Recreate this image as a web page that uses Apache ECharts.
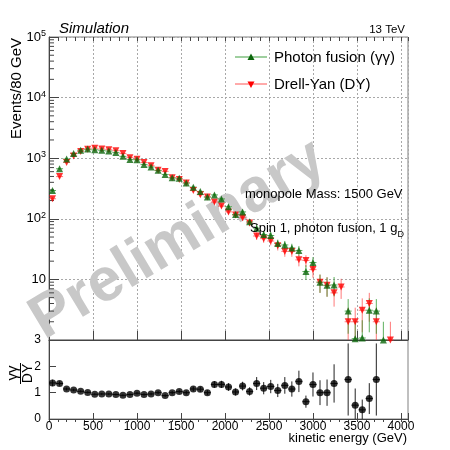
<!DOCTYPE html>
<html>
<head>
<meta charset="utf-8">
<script src="https://cdn.jsdelivr.net/npm/echarts@6/dist/echarts.min.js"></script>
<style>
  html, body { margin: 0; padding: 0; background: #ffffff; }
  #chart { width: 450px; height: 450px; }
</style>
</head>
<body>
<div id="chart"></div>
<script>
// Kinetic-energy spectrum of a 1500 GeV monopole, 80 GeV bins from 0 to 4080 GeV
const binCenters = [40, 120, 200, 280, 360, 440, 520, 600, 680, 760, 840, 920, 1000, 1080, 1160,
  1240, 1320, 1400, 1480, 1560, 1640, 1720, 1800, 1880, 1960, 2040, 2120, 2200, 2280, 2360, 2440,
  2520, 2600, 2680, 2760, 2840, 2920, 3000, 3080, 3160, 3240, 3320, 3400, 3480, 3560, 3640, 3720,
  3800, 3880, 3960, 4040];
const halfBin = 40;

// Events per bin, photon fusion (γγ)
const photonFusion = [293, 670, 969, 1193, 1355, 1417, 1375, 1349, 1312, 1236,
  1073, 949, 941, 789, 716, 630, 539, 474, 465, 390,
  333, 283, 229, 248, 213, 158, 118, 130, 89, 70,
  55, 53, 39, 37, 33, 30, 13.5, 19, 9, 8,
  8.1, 0, 3, 1.05, 1.08, 3.1, 3, 1, 0, 0, 0];

// Events per bin, Drell-Yan (DY)
const drellYan = [214, 497, 850, 1084, 1290, 1403, 1463, 1420, 1381, 1329,
  1192, 1021, 961, 848, 753, 630, 606, 474, 447, 390,
  292, 250, 229, 189, 162, 130, 115, 104, 85, 52,
  47, 43, 36, 29, 29, 21, 20.5, 14.5, 9, 8,
  6, 7.5, 2, 2, 3.1, 4, 2, 0, 1, 0, 0];

// Axis ticks
const energyTicks = [0, 500, 1000, 1500, 2000, 2500, 3000, 3500, 4000];
const logDecades = [1, 10, 100, 1000, 10000];
const logMantissas = [2, 3, 4, 5, 6, 7, 8, 9];
const ratioTicks = [0, 1, 2, 3];

const FONT = '"Liberation Sans", Arial, Helvetica, sans-serif';
const GREEN = '#0b660b';
const GREEN_BAR = 'rgba(40,150,40,0.75)';
const RED = '#ff0000';
const RED_BAR = 'rgba(255,50,50,0.65)';
const AXIS = '#444444';

// Markers and Poisson error bars for one histogram
function histPoints(values) {
  const pts = [], bars = [];
  values.forEach((v, i) => {
    if (v <= 0) return;
    const e = Math.sqrt(v);
    pts.push([binCenters[i], v]);
    bars.push([binCenters[i], v, Math.max(v - e, 1), v + e]);
  });
  return { pts, bars };
}
const gg = histPoints(photonFusion);
const dy = histPoints(drellYan);

// Ratio γγ / DY with propagated statistical uncertainty
const ratioPts = [], ratioBars = [];
binCenters.forEach((x, i) => {
  const a = photonFusion[i], b = drellYan[i];
  if (a <= 0 || b <= 0) return;
  const r = a / b;
  const e = r * Math.sqrt(1 / a + 1 / b);
  ratioPts.push([x, r]);
  ratioBars.push([x, r, Math.max(r - e, 0), Math.min(r + e, 3)]);
});

const logMinor = [];
logDecades.forEach(d => logMantissas.forEach(m => logMinor.push([0, m * d])));

function errorBars(color) {
  return function (params, api) {
    const x = api.value(0), y = api.value(1), lo = api.value(2), hi = api.value(3);
    const c = api.coord([x, y]);
    const top = api.coord([x, hi]);
    const bot = api.coord([x, lo]);
    const l = api.coord([x - halfBin, y]);
    const r = api.coord([x + halfBin, y]);
    return {
      type: 'group',
      children: [
        { type: 'line', shape: { x1: c[0], y1: top[1], x2: c[0], y2: bot[1] }, style: { stroke: color, lineWidth: 1 } },
        { type: 'line', shape: { x1: l[0], y1: c[1], x2: r[0], y2: c[1] }, style: { stroke: color, lineWidth: 1 } }
      ]
    };
  };
}

function logMinorTick(params, api) {
  const p = api.coord([0, api.value(1)]);
  return { type: 'line', shape: { x1: p[0], y1: p[1], x2: p[0] + 5, y2: p[1] }, style: { stroke: AXIS, lineWidth: 1 } };
}

const dash = { color: '#a8a8a8', type: [2, 2], width: 1 };

function energyAxis(grid, withLabels) {
  return {
    gridIndex: grid, type: 'value', min: 0, max: 4080, interval: 500,
    axisLine: { show: true, onZero: false, lineStyle: { color: AXIS } },
    axisTick: { show: true, inside: true, length: grid === 0 ? 9 : 6, lineStyle: { color: AXIS } },
    axisLabel: withLabels ? {
      show: true, margin: 2, fontSize: 12, fontFamily: FONT, color: '#000',
      formatter: v => energyTicks.indexOf(v) >= 0 ? String(v) : ''
    } : { show: false },
    splitLine: grid === 0 ? { show: true, lineStyle: dash } : { show: false }
  };
}
function energyMinorAxis(grid) {
  return {
    gridIndex: grid, type: 'value', min: 0, max: 4080, interval: 100,
    axisLine: { show: false }, axisLabel: { show: false }, splitLine: { show: false },
    axisTick: { show: true, inside: true, length: grid === 0 ? 4 : 3, lineStyle: { color: AXIS } }
  };
}

const option = {
  animation: false,
  backgroundColor: '#ffffff',
  textStyle: { fontFamily: FONT },
  grid: [
    { left: 49, top: 37, width: 359, height: 303, show: true, borderColor: '#808080', borderWidth: 1 },
    { left: 49, top: 340, width: 359, height: 79, show: true, borderColor: '#808080', borderWidth: 1 }
  ],
  xAxis: [energyAxis(0, false), energyMinorAxis(0), energyAxis(1, true), energyMinorAxis(1)],
  yAxis: [
    {
      gridIndex: 0, type: 'log', logBase: 10, min: 1, max: 100000,
      axisLine: { show: true, lineStyle: { color: AXIS } },
      axisTick: { show: true, inside: true, length: 10, lineStyle: { color: AXIS } },
      axisLabel: {
        margin: 3, color: '#000', fontFamily: FONT,
        formatter: v => {
          const e = Math.round(Math.log10(v));
          if (e === 0) return '';
          if (e === 1) return '{b|10}';
          return '{b|10}{s|' + e + '}';
        },
        rich: {
          b: { fontSize: 13, lineHeight: 16, fontFamily: FONT, color: '#000' },
          s: { fontSize: 9, lineHeight: 9, verticalAlign: 'top', fontFamily: FONT, color: '#000' }
        }
      },
      splitLine: { show: true, lineStyle: dash }
    },
    {
      gridIndex: 1, type: 'value', min: 0, max: 3, interval: 1,
      axisLine: { show: true, lineStyle: { color: AXIS } },
      axisTick: { show: true, inside: true, length: 7, lineStyle: { color: AXIS } },
      axisLabel: { margin: 8, fontSize: 12, color: '#000', fontFamily: FONT,
        formatter: v => ratioTicks.indexOf(v) >= 0 ? String(v) : '' },
      splitLine: { show: false }
    }
  ],
  series: [
    { type: 'custom', name: 'logMinorTicks', xAxisIndex: 0, yAxisIndex: 0, silent: true, z: 3,
      data: logMinor, encode: { x: 0, y: 1 }, renderItem: logMinorTick },
    { type: 'custom', name: 'DY errors', xAxisIndex: 0, yAxisIndex: 0, silent: true, z: 2,
      data: dy.bars, encode: { x: 0, y: 1 }, renderItem: errorBars(RED_BAR) },
    { type: 'custom', name: 'γγ errors', xAxisIndex: 0, yAxisIndex: 0, silent: true, z: 2,
      data: gg.bars, encode: { x: 0, y: 1 }, renderItem: errorBars(GREEN_BAR) },
    { type: 'scatter', name: 'Drell-Yan (DY)', xAxisIndex: 0, yAxisIndex: 0, z: 4,
      data: dy.pts, symbol: 'triangle', symbolRotate: 180, symbolSize: 7, itemStyle: { color: RED } },
    { type: 'scatter', name: 'Photon fusion (γγ)', xAxisIndex: 0, yAxisIndex: 0, z: 5,
      data: gg.pts, symbol: 'triangle', symbolSize: 7, itemStyle: { color: GREEN } },
    { type: 'custom', name: 'ratio errors', xAxisIndex: 2, yAxisIndex: 1, silent: true, z: 2,
      data: ratioBars, encode: { x: 0, y: 1 }, renderItem: errorBars('#222222') },
    { type: 'scatter', name: 'ratio', xAxisIndex: 2, yAxisIndex: 1, z: 4,
      data: ratioPts, symbol: 'circle', symbolSize: 7, itemStyle: { color: '#000' } }
  ],
  graphic: [
    // watermark
    { type: 'text', x: 178, y: 240, rotation: 31 * Math.PI / 180, z: 1, silent: true,
      style: { text: 'Preliminary', font: 'bold 61px ' + FONT, fill: '#c8c8c8',
        align: 'center', verticalAlign: 'middle', textAlign: 'center', textVerticalAlign: 'middle' } },
    // headers
    { type: 'text', x: 59, y: 29, z: 10,
      style: { text: 'Simulation', font: 'italic 15px ' + FONT, fill: '#000',
        align: 'left', verticalAlign: 'middle', textAlign: 'left', textVerticalAlign: 'middle' } },
    { type: 'text', x: 405, y: 29.5, z: 10,
      style: { text: '13 TeV', font: '11.5px ' + FONT, fill: '#000',
        align: 'right', verticalAlign: 'middle', textAlign: 'right', textVerticalAlign: 'middle' } },
    // legend
    { type: 'line', z: 10, shape: { x1: 235, y1: 57, x2: 267, y2: 57 }, style: { stroke: '#3f9f3f', lineWidth: 1 } },
    { type: 'polygon', z: 11, shape: { points: [[251, 53.5], [247.5, 60], [254.5, 60]] }, style: { fill: GREEN } },
    { type: 'text', x: 274, y: 57.5, z: 10,
      style: { text: 'Photon fusion (γγ)', font: '15px ' + FONT, fill: '#000',
        align: 'left', verticalAlign: 'middle', textAlign: 'left', textVerticalAlign: 'middle' } },
    { type: 'line', z: 10, shape: { x1: 235, y1: 84, x2: 267, y2: 84 }, style: { stroke: '#ff5555', lineWidth: 1 } },
    { type: 'polygon', z: 11, shape: { points: [[247.5, 81.5], [254.5, 81.5], [251, 88]] }, style: { fill: RED } },
    { type: 'text', x: 274, y: 85, z: 10,
      style: { text: 'Drell-Yan (DY)', font: '15px ' + FONT, fill: '#000',
        align: 'left', verticalAlign: 'middle', textAlign: 'left', textVerticalAlign: 'middle' } },
    // annotations
    { type: 'text', x: 245, y: 194.5, z: 10,
      style: { text: 'monopole Mass: 1500 GeV', font: '13px ' + FONT, fill: '#000',
        align: 'left', verticalAlign: 'middle', textAlign: 'left', textVerticalAlign: 'middle' } },
    { type: 'text', x: 250, y: 228, z: 10,
      style: { text: '{a|Spin 1, photon fusion, 1 g}{d|D}', fill: '#000',
        align: 'left', verticalAlign: 'middle', textAlign: 'left', textVerticalAlign: 'middle',
        rich: {
          a: { fontSize: 13, lineHeight: 22, fontFamily: FONT, fill: '#000', color: '#000' },
          d: { fontSize: 9, lineHeight: 9, verticalAlign: 'bottom', fontFamily: FONT, fill: '#000', color: '#000' }
        } } },
    // axis titles
    { type: 'text', x: 16.5, y: 38, rotation: Math.PI / 2, z: 10,
      style: { text: 'Events/80 GeV', font: '15px ' + FONT, fill: '#000',
        align: 'right', verticalAlign: 'middle', textAlign: 'right', textVerticalAlign: 'middle' } },
    { type: 'text', x: 407, y: 438, z: 10,
      style: { text: 'kinetic energy (GeV)', font: '13px ' + FONT, fill: '#000',
        align: 'right', verticalAlign: 'middle', textAlign: 'right', textVerticalAlign: 'middle' } },
    { type: 'text', x: 13, y: 373, rotation: Math.PI / 2, z: 10,
      style: { text: 'γγ', font: '15px ' + FONT, fill: '#000',
        align: 'center', verticalAlign: 'middle', textAlign: 'center', textVerticalAlign: 'middle' } },
    { type: 'line', z: 10, shape: { x1: 20.5, y1: 363, x2: 20.5, y2: 384 }, style: { stroke: '#000', lineWidth: 1 } },
    { type: 'text', x: 28.5, y: 373.5, rotation: Math.PI / 2, z: 10,
      style: { text: 'DY', font: '14px ' + FONT, fill: '#000',
        align: 'center', verticalAlign: 'middle', textAlign: 'center', textVerticalAlign: 'middle' } }
  ]
};

const chart = echarts.init(document.getElementById('chart'), null, { renderer: 'canvas' });
chart.setOption(option);
</script>
</body>
</html>
